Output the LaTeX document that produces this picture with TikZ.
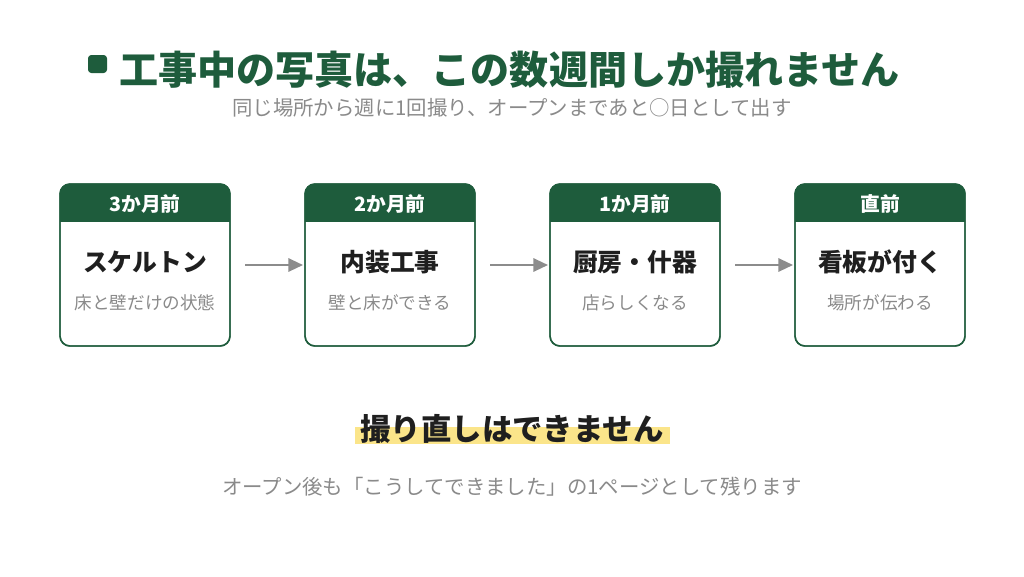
\documentclass[tikz,border=0pt]{standalone}
\usepackage{fontspec}
\setmainfont{Noto Sans CJK JP}
\usetikzlibrary{arrows.meta}
\definecolor{dgreen}{HTML}{1E5C3C}
\definecolor{gtext}{HTML}{8A8A8A}
\definecolor{hl}{HTML}{FBE58A}
\definecolor{agray}{HTML}{8C8C8C}
\tikzset{
  card/.style={draw=dgreen, line width=1.1pt, rounded corners=7.5pt, fill=white},
  cardhead/.style={font=\fontsize{14.8}{16}\selectfont\bfseries, text=white},
  cardmain/.style={font=\fontsize{18.6}{20}\selectfont\bfseries, text=black!88},
  cardsub/.style={font=\fontsize{13.2}{15}\selectfont, text=gtext},
  flow/.style={-{Triangle[length=11pt,width=10pt]}, draw=agray, line width=1.6pt},
}
\begin{document}
\begin{tikzpicture}[x=0.75pt,y=-0.75pt]
\useasboundingbox[fill=white] (0,0) rectangle (1024,576);
% title
\fill[dgreen, rounded corners=2.5pt] (88,55) rectangle (107,73);
\node[anchor=west, text=dgreen, font=\fontsize{29.3}{32}\selectfont\bfseries, inner sep=0] (title) at (119,70) {工事中の写真は、この数週間しか撮れません};
\node[text=gtext, font=\fontsize{15.3}{17}\selectfont, inner sep=0] (sub) at (512,108) {同じ場所から週に1回撮り、オープンまであと○日として出す};
% cards
\foreach \i/\x/\h/\m/\s in {1/60/3か月前/スケルトン/床と壁だけの状態, 2/305/2か月前/内装工事/壁と床ができる, 3/550/1か月前/厨房・什器/店らしくなる, 4/795/直前/看板が付く/場所が伝わる}{
  \draw[card] (\x,184) rectangle ++(170,162);
  \begin{scope}
    \clip[rounded corners=7.5pt] (\x,184) rectangle ++(170,162);
    \fill[dgreen] (\x,184) rectangle ++(170,38);
  \end{scope}
  \draw[card, fill=none] (\x,184) rectangle ++(170,162);
  \coordinate (l\i) at (\x,265);
  \coordinate (r\i) at (\x+170,265);
  \node[cardhead] (h\i) at (\x+85,204) {\h};
  \node[cardmain] (m\i) at (\x+85,262) {\m};
  \node[cardsub] (s\i) at (\x+85,303) {\s};
}
\draw[flow] ([xshift=11.25pt]r1) -- ([xshift=-1.5pt]l2);
\draw[flow] ([xshift=11.25pt]r2) -- ([xshift=-1.5pt]l3);
\draw[flow] ([xshift=11.25pt]r3) -- ([xshift=-1.5pt]l4);
% bottom
\fill[hl] (355,427) rectangle (670,444);
\node[font=\fontsize{22.8}{25}\selectfont\bfseries, text=black!88, inner sep=0] (msg) at (512,429) {撮り直しはできません};
\node[text=gtext, font=\fontsize{15.3}{17}\selectfont, inner sep=0] (foot) at (512,487) {オープン後も「こうしてできました」の1ページとして残ります};
\end{tikzpicture}
\end{document}
